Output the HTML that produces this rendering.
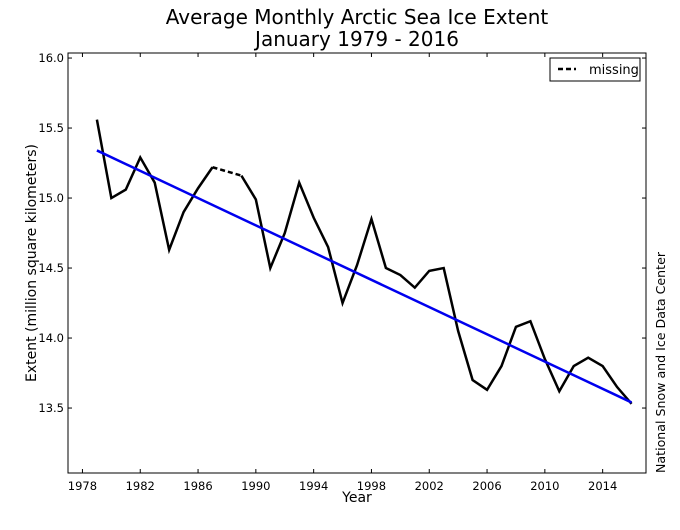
<!DOCTYPE html>
<html><head><meta charset="utf-8"><style>
body{margin:0;background:#fff;width:680px;height:526px;overflow:hidden;font-family:"DejaVu Sans","Liberation Sans",sans-serif;}
</style></head><body>
<svg id="c" width="680" height="526" xmlns="http://www.w3.org/2000/svg">
<text x="357" y="24" text-anchor="middle" font-size="20">Average Monthly Arctic Sea Ice Extent</text>
<text x="357" y="46" text-anchor="middle" font-size="20">January 1979 - 2016</text>
<text x="357" y="502" text-anchor="middle" font-size="14">Year</text>
<text transform="translate(36,263) rotate(-90)" text-anchor="middle" font-size="14">Extent (million square kilometers)</text>
<text transform="translate(665,473) rotate(-90)" text-anchor="start" font-size="12.6">National Snow and Ice Data Center</text>
<g id="ticks"></g>
<g id="marks"></g>
<rect x="68" y="53" width="578" height="420" fill="none" stroke="#000" stroke-width="1"/>
<g>
<rect x="550" y="58" width="90" height="23" fill="#fff" stroke="#000" stroke-width="1"/>
<line x1="558" y1="69" x2="576" y2="69" stroke="#000" stroke-width="2.5" stroke-dasharray="5,3"/>
<text x="589" y="74" font-size="13">missing</text>
</g>
</svg>
<script>
const years=[1979,1980,1981,1982,1983,1984,1985,1986,1987,1989,1990,1991,1992,1993,1994,1995,1996,1997,1998,1999,2000,2001,2002,2003,2004,2005,2006,2007,2008,2009,2010,2011,2012,2013,2014,2015,2016];
const extent=[15.56,15.00,15.06,15.29,15.11,14.63,14.90,15.07,15.22,15.16,14.99,14.50,14.75,15.11,14.86,14.65,14.25,14.52,14.85,14.50,14.45,14.36,14.48,14.50,14.05,13.70,13.63,13.80,14.08,14.12,13.85,13.62,13.80,13.86,13.80,13.65,13.53];
const missingYears=[1987,1989];
const trendYears=[1979,2016];
const trendValues=[15.34,13.54];
const xTicks=[1978,1982,1986,1990,1994,1998,2002,2006,2010,2014];
const yTicks=[13.5,14.0,14.5,15.0,15.5,16.0];
const X=y=>68+(y-1977)*578/40;
const Y=v=>473-(v-13.036)*140;
const NS='http://www.w3.org/2000/svg';
const tk=document.getElementById('ticks'),mk=document.getElementById('marks');
function el(p,t,a){const e=document.createElementNS(NS,t);for(const k in a)e.setAttribute(k,a[k]);p.appendChild(e);return e;}
xTicks.forEach(t=>{const x=X(t);
el(tk,'line',{x1:x,x2:x,y1:473,y2:469,stroke:'#000'});
el(tk,'line',{x1:x,x2:x,y1:53,y2:57,stroke:'#000'});
const s=el(tk,'text',{x:x,y:490,'text-anchor':'middle','font-size':11.5});s.textContent=t;

});
yTicks.forEach(t=>{const y=Y(t);
el(tk,'line',{x1:68,x2:72,y1:y,y2:y,stroke:'#000'});
el(tk,'line',{x1:646,x2:642,y1:y,y2:y,stroke:'#000'});
const s=el(tk,'text',{x:64,y:y+4,'text-anchor':'end','font-size':11.5});s.textContent=t.toFixed(1);

});
let segs=[[]];
years.forEach((yr,i)=>{if(i>0&&yr-years[i-1]>1)segs.push([]);segs[segs.length-1].push([X(yr),Y(extent[i])]);});
segs.forEach(s=>{const p=el(mk,'polyline',{points:s.map(q=>q.join(',')).join(' '),fill:'none',stroke:'#000','stroke-width':2.5,'stroke-linejoin':'miter'});

});
const mv=missingYears.map(y=>extent[years.indexOf(y)]);
const d=el(mk,'line',{x1:X(missingYears[0]),y1:Y(mv[0]),x2:X(missingYears[1]),y2:Y(mv[1]),stroke:'#000','stroke-width':2.5,'stroke-dasharray':'5,3'});


const tr=el(mk,'line',{x1:X(trendYears[0]),y1:Y(trendValues[0]),x2:X(trendYears[1]),y2:Y(trendValues[1]),stroke:'#0000ee','stroke-width':2.5});


</script>
</body></html>
